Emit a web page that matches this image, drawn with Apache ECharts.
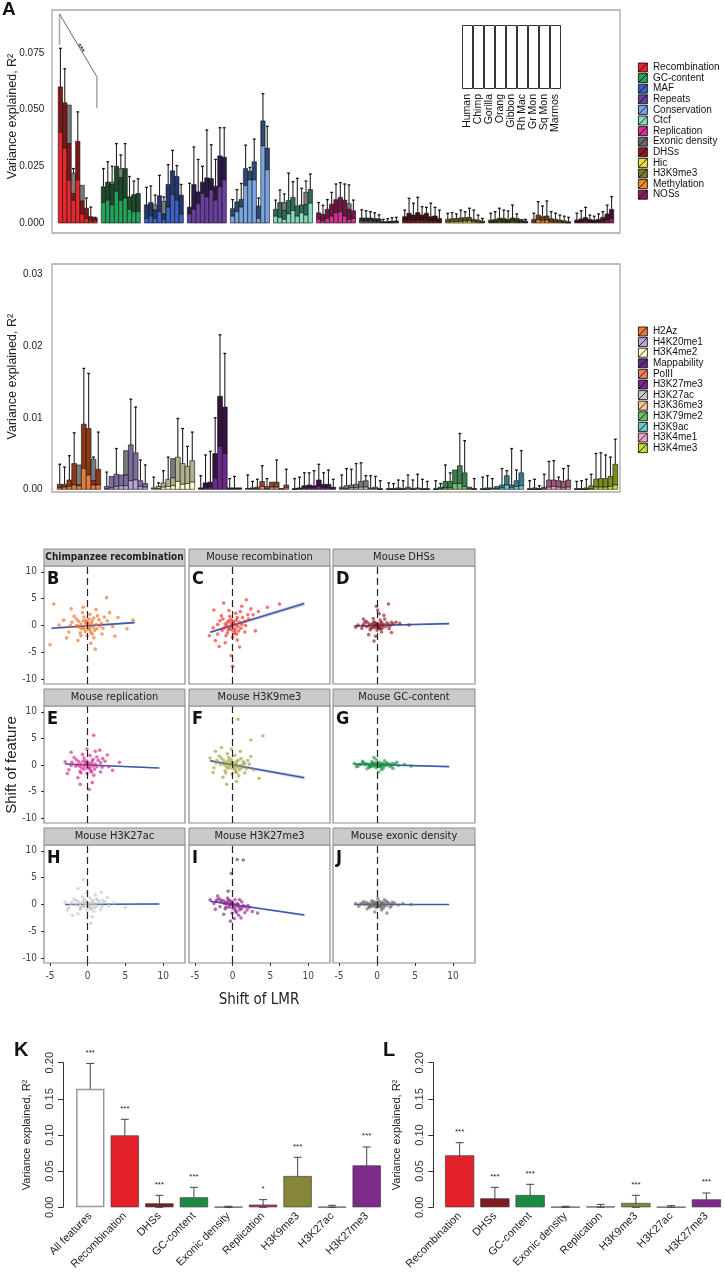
<!DOCTYPE html>
<html><head><meta charset="utf-8">
<script src="https://cdn.jsdelivr.net/npm/echarts@6/dist/echarts.min.js"></script>
<style>html,body{margin:0;padding:0;background:#fff}#c{width:725px;height:1272px}</style>
</head><body><div id="c"></div><script>
// ---------------- DATA ----------------
const topNames = ['Recombination','GC-content','MAF','Repeats','Conservation','Ctcf','Replication','Exonic density','DHSs','Hic','H3K9me3','Methylation','NOSs'];
const species = ['Human','Chimp','Gorilla','Orang','Gibbon','Rh Mac','Gr Mon','Sq Mon','Marmos'];
// stacked R2 per feature (rows) and species (cols): light part top, dark part top, grey part top, error top
const topLight = [
 [.040,.033,.019,.010,.019,.004,.002,.001,.001],
 [.009,.010,.008,.014,.010,.011,.006,.005,.005],
 [.002,.003,.002,.005,.0015,.007,.0125,.010,.004],
 [.004,.006,.0085,.013,.0115,.0145,.010,.016,.019],
 [.003,.005,.007,.0165,.019,.019,.002,.034,.0235],
 [.003,.0025,.0016,.004,.0055,.003,.0045,.0035,.0087],
 [.0016,.001,.002,.003,.0045,.005,.003,.0015,.002],
 [.0008,.0008,.0008,.0006,.0005,.0002,.0002,.0002,.0003],
 [.0008,.0012,.001,.0012,.001,.001,.0008,.0008,.0006],
 [.0005,.0006,.0006,.0007,.0008,.0009,.0005,.0003,.0002],
 [.0003,.0004,.0006,.0005,.0004,.0007,.0005,.0004,.0002],
 [.0004,.0014,.001,.0012,.0005,.0004,.0003,.0002,.0001],
 [.0003,.0005,.0008,.0004,.0003,.0004,.0009,.0012,.002]];
const topDark = [
 [.060,.053,.035,.013,.036,.0096,.0065,.0028,.0022],
 [.016,.018,.017,.025,.020,.024,.0115,.0125,.013],
 [.008,.009,.0057,.012,.004,.017,.023,.0205,.0123],
 [.007,.017,.0137,.018,.0199,.0196,.0162,.0296,.029],
 [.0063,.0093,.0104,.024,.0228,.027,.0075,.045,.033],
 [.006,.009,.0055,.010,.0113,.0075,.008,.008,.0148],
 [.0045,.0038,.006,.0083,.0103,.0113,.0101,.006,.0054],
 [.0022,.0022,.0022,.002,.0018,.0006,.0007,.0008,.0009],
 [.0028,.0043,.0035,.0046,.0035,.0043,.0028,.0031,.002],
 [.0016,.0019,.002,.0022,.0024,.0025,.0016,.0013,.0009],
 [.0013,.0016,.0021,.002,.0016,.0022,.002,.0016,.0009],
 [.0016,.0035,.0028,.0031,.0019,.0016,.0013,.001,.0006],
 [.0013,.0018,.0024,.0016,.0013,.0016,.0025,.004,.006]];
const topGrey = [
 [.060,.053,.052,.022,.036,.0166,.0065,.0028,.0022],
 [.016,.018,.018,.025,.024,.024,.0115,.0125,.013],
 [.008,.009,.008,.012,.0095,.017,.023,.0205,.0123],
 null, null,
 [.006,.009,.009,.010,.0113,.0075,.008,.0135,.0148],
 [.0045,.0038,.006,.0083,.0103,.0113,.0101,.0085,.0054],
 null, null, null, null, null, null];
const topErr = [
 [.077,.068,.052,.024,.049,.0137,.011,.007,.0025],
 [.024,.027,.025,.035,.030,.035,.0205,.0185,.0195],
 [.0157,.0163,.0123,.021,.0115,.0257,.032,.0253,.017],
 [.0175,.0335,.028,.025,.041,.0345,.028,.042,.042],
 [.0103,.0147,.0174,.0343,.0245,.037,.011,.057,.0426],
 [.0101,.0146,.0128,.022,.0182,.0197,.0153,.0185,.0216],
 [.009,.0078,.0103,.0135,.0172,.0178,.0172,.0168,.0101],
 [.0058,.0054,.005,.0045,.0036,.0016,.0019,.0023,.0025],
 [.0057,.0109,.0087,.0113,.0072,.0069,.0087,.0069,.0057],
 [.0043,.0046,.004,.0057,.005,.0065,.0057,.0035,.002],
 [.0043,.005,.0065,.0057,.0053,.0079,.004,.0013,.0016],
 [.0043,.0094,.0075,.0097,.005,.0043,.0035,.003,.0025],
 [.0043,.0054,.0069,.0035,.003,.004,.005,.0079,.0116]];
// significance bracket over Recombination: top, left-foot, right-top, right-foot
const bracketVals = [0.0921, 0.0785, 0.0645, 0.0508];

const botNames = ['H2Az','H4K20me1','H3K4me2','Mappability','PolII','H3K27me3','H3K27ac','H3K36me3','H3K79me2','H3K9ac','H3K4me1','H3K4me3'];
const botLight = [
 [.0002,.0003,.0004,.0006,.0005,.0029,.002,.0006,.0006],
 [.0001,.0002,.0004,.0005,.0005,.0012,.0013,.0004,.0003],
 [.0001,.0001,.0003,.0004,.0005,.0011,.0007,.0008,.001],
 [.0001,.0002,.0003,.0015,.006,.005,.0001,.0001,.0001],
 [.0001,.0001,.0001,.0004,.0001,.0003,.0003,.0001,.0002],
 [0,.0001,.0002,.0002,.0002,.0004,.0002,.0002,.0001],
 [.0001,.0001,.0002,.0002,.0003,.0003,.0001,.0001,0],
 [0,0,0,0,.0001,0,.0001,0,0],
 [0,.0001,.0002,.0002,.0008,.0008,.0004,.0001,0],
 [0,0,.0001,.0001,.0002,.0006,.0002,.0004,.0005],
 [0,0,0,.0001,.0003,.0004,.0003,.0002,.0003],
 [0,0,0,.0001,.0003,.0003,.0003,.0004,.0006]];
const botDark = [
 [.0007,.0007,.0013,.0036,.0006,.0091,.0085,.0012,.0028],
 [.0004,.0018,.0021,.002,.002,.0062,.0051,.0012,.0008],
 [.0002,.0004,.0009,.0014,.0016,.0045,.0036,.0032,.004],
 [.0002,.0009,.001,.005,.013,.0115,.0002,.0002,.0002],
 [.0001,.0002,.0003,.0011,.0004,.001,.001,.0001,.0006],
 [.0001,.0002,.0005,.0006,.0005,.0013,.0007,.0007,.0003],
 [.0003,.0005,.0006,.0007,.0011,.0012,.0002,.0003,.0001],
 [.0001,.0001,.0002,.0001,.0003,.0001,.0002,.0001,.0001],
 [.0001,.0003,.0011,.0011,.0027,.0033,.0023,.0003,.0001],
 [.0001,.0002,.0002,.0004,.0006,.0019,.0006,.0012,.0023],
 [.0001,.0002,.0001,.0003,.0013,.0013,.0012,.0011,.0013],
 [.0001,.0001,.0002,.0005,.0014,.0015,.0015,.0018,.0035]];
const botGrey = [
 [.0007,.0007,.0013,.0036,.0034,.0091,.0085,.0042,.0028],
 [.0004,.0018,.0021,.002,.0054,.0062,.0051,.0012,.0008],
 [.0002,.0004,.0009,.0014,.0043,.0045,.0036,.0032,.004],
 null,null,null,null,null,null,null,null,null];
const botErr = [
 [.0035,.0031,.0047,.0079,.0034,.0169,.0162,.0045,.008],
 [.0024,.0018,.0057,.002,.0054,.0126,.0115,.0041,.0034],
 [.0017,.0009,.0026,.0045,.0043,.0099,.0085,.006,.008],
 [.0019,.0048,.0053,.010,.0216,.019,.0015,.0018,.0002],
 [.002,.0011,.0014,.0033,.0015,.001,.0041,.0001,.0028],
 [.0015,.0017,.0023,.0023,.0026,.0035,.0023,.0027,.0014],
 [.002,.0029,.0028,.0036,.0037,.0019,.0019,.0018,.0012],
 [.0009,.0008,.0013,.0012,.002,.0013,.0021,.0014,.0011],
 [.0012,.0008,.0034,.0023,.0027,.0078,.0068,.0003,.0015],
 [.0017,.0019,.0015,.0004,.0029,.0026,.0057,.0027,.0054],
 [.0012,.0014,.0005,.0021,.0039,.004,.0017,.0029,.0033],
 [.0011,.0012,.0014,.0021,.005,.0051,.0048,.0045,.007]];

// scatter panels B-J: [shift of LMR, shift of feature]
const scatterTitles = ['Chimpanzee recombination','Mouse recombination','Mouse DHSs','Mouse replication','Mouse H3K9me3','Mouse GC-content','Mouse H3K27ac','Mouse H3K27me3','Mouse exonic density'];
const ptsB = [[-0.3,0.5],[0.2,-0.4],[0.6,0.9],[-0.8,-0.6],[1.1,0.2],[-1.2,0.8],[0.4,-1.3],[-0.5,1.6],[0.9,-0.9],[-1.6,-0.2],[1.5,1.1],[-0.1,-1.9],[0.3,2.1],[-2.1,0.6],[2.0,-0.5],[-1.0,-1.4],[1.3,1.8],[-0.7,2.4],[0.8,-2.3],[-2.5,-1.2],[2.6,0.9],[-1.8,1.7],[1.9,-1.6],[-0.2,0.1],[0.1,0.3],[-0.4,-0.2],[0.5,0.4],[0.0,-0.7],[-0.9,0.3],[0.7,-0.3],[-3.2,1.0],[3.3,-0.2],[-2.8,-2.3],[2.9,2.4],[-1.3,-2.8],[1.1,3.0],[-3.8,0.1],[4.0,1.5],[-0.6,3.4],[0.4,-3.3],[-5.0,-3.6],[6.0,1.0],[-4.5,4.0],[2.5,5.2],[1.0,-4.4],[5.2,-0.6],[-2.2,3.1],[3.6,-2.0],[-1.4,0.0],[1.6,-0.1],[0.2,1.2],[-0.3,-1.1],[-0.6,0.9],[0.8,1.4],[-1.1,-0.3],[1.2,-0.6],[0.3,-0.8],[-0.2,1.0],[-1.5,1.2],[1.8,0.4],[-0.9,-1.9],[0.6,-1.6],[-2.3,0.0],[2.2,1.6],[0.0,0.6],[-0.5,-0.6]];
const ptsC = [[-0.2,0.4],[0.3,-0.5],[0.5,1.0],[-0.6,-0.8],[0.9,0.6],[-1.0,0.3],[0.2,-1.5],[-0.4,1.7],[0.8,-1.0],[-1.4,-0.9],[1.3,1.5],[0.0,-2.2],[0.4,2.3],[-1.7,0.9],[1.7,0.0],[-0.9,-1.9],[1.0,2.6],[-0.5,2.8],[0.6,-2.7],[-2.0,-1.6],[2.1,1.2],[-1.5,1.8],[1.6,-1.2],[-0.1,0.0],[0.1,0.5],[-0.3,-0.3],[0.4,0.2],[0.0,-0.9],[-0.7,0.6],[0.7,-0.2],[-2.6,-0.4],[2.7,2.0],[-2.3,-2.8],[2.4,3.1],[-1.0,-3.2],[1.2,3.6],[-3.1,-1.9],[3.4,2.6],[-0.2,-5.6],[0.0,-7.6],[1.8,4.8],[-2.5,2.9],[4.6,3.4],[6.2,4.0],[3.0,-1.0],[-1.2,4.2],[0.9,-4.0],[-1.8,-3.9],[-0.8,0.0],[1.1,-0.5],[-0.5,0.9],[0.6,1.5],[-1.1,-0.4],[1.2,0.2],[0.3,-1.0],[-0.2,1.1],[-1.3,1.2],[1.6,0.8],[-0.7,-1.4],[0.5,-1.6],[-2.0,0.2],[2.0,2.0],[0.1,0.8],[-0.4,-0.7]];
const ptsD = [[-0.2,0.1],[0.3,-0.2],[0.5,0.4],[-0.6,-0.3],[0.9,0.2],[-1.0,0.3],[0.2,-0.6],[-0.4,0.7],[0.8,-0.4],[-1.4,-0.2],[1.3,0.5],[0.0,-0.9],[0.4,1.0],[-1.7,0.4],[1.7,-0.1],[-0.9,-0.8],[1.0,1.2],[-0.5,1.3],[0.6,-1.2],[-2.0,-0.5],[2.1,0.3],[-1.5,0.8],[1.6,-0.6],[-0.1,0.0],[0.1,0.2],[-0.3,-0.1],[0.2,0.1],[0.0,-0.4],[-0.7,0.2],[0.7,0.0],[-2.5,0.1],[2.5,0.6],[-0.2,-2.0],[0.3,2.2],[-0.4,-2.9],[1.5,4.0],[-1.1,-1.7],[0.9,1.9],[3.0,0.4],[4.2,0.1],[-2.8,-0.3],[0.1,2.9],[-0.1,3.6],[1.9,-1.3],[-1.8,1.2],[0.5,-0.7],[-0.5,0.4],[0.6,0.6],[-1.1,-0.1],[1.2,-0.2],[0.3,-0.3],[-0.2,0.5],[-1.3,0.6],[1.5,0.2],[-0.8,-0.5],[0.4,-0.5],[-1.9,0.0],[1.9,0.6],[0.0,0.3],[-0.4,-0.4]];
const ptsE = [[-0.3,0.3],[0.2,-0.4],[0.6,0.7],[-0.8,-0.5],[1.0,0.2],[-1.2,0.6],[0.4,-1.1],[-0.5,1.3],[0.9,-0.8],[-1.6,-0.2],[1.4,0.9],[-0.1,-1.6],[0.3,1.8],[-2.1,0.5],[1.9,-0.4],[-1.0,-1.2],[1.2,1.5],[-0.7,2.0],[0.8,-1.9],[-2.5,-0.9],[2.3,0.7],[-1.8,1.4],[1.7,-1.3],[-0.2,0.1],[0.1,0.2],[-0.4,-0.2],[0.5,0.3],[0.0,-0.6],[-0.9,0.2],[0.7,-0.2],[-3.0,0.6],[2.8,-0.3],[-2.7,-1.6],[2.6,1.9],[-1.3,-2.4],[1.0,2.6],[-0.1,3.0],[0.6,-3.3],[4.2,0.5],[0.8,5.6],[1.6,2.8],[-1.0,-3.6],[0.2,-4.6],[3.3,-1.0],[-2.2,2.4],[-1.4,0.0],[-0.6,0.7],[0.7,1.1],[-1.1,-0.2],[1.2,-0.3],[0.3,-0.7],[-0.2,0.8],[-1.5,1.0],[1.7,0.4],[-0.9,-1.5],[0.5,-1.3],[-2.2,-0.1],[2.0,1.2],[0.0,0.5],[-0.5,-0.8]];
const ptsF = [[-0.3,0.4],[0.2,-0.3],[0.5,0.6],[-0.8,-0.4],[1.0,-0.1],[-1.2,0.9],[0.4,-1.2],[-0.5,1.4],[0.9,-0.9],[-1.6,0.1],[1.4,0.6],[-0.1,-1.7],[0.3,1.8],[-2.1,0.9],[1.8,-0.7],[-1.0,-1.1],[1.1,1.2],[-0.7,2.1],[0.8,-2.0],[-2.5,-0.5],[2.2,0.2],[-1.8,1.7],[1.6,-1.5],[-0.2,0.1],[0.1,0.2],[-0.4,-0.1],[0.5,0.2],[0.0,-0.6],[-0.9,0.4],[0.7,-0.4],[-3.0,1.3],[2.8,-0.9],[-2.6,-1.4],[2.4,1.6],[-1.3,-2.3],[1.0,2.6],[-0.2,3.0],[0.5,-3.1],[0.7,8.6],[2.4,4.7],[4.0,5.5],[-1.5,3.3],[-0.8,-3.6],[3.5,-2.5],[-2.3,2.6],[1.3,0.0],[-0.6,0.8],[0.7,0.9],[-1.1,0.0],[1.2,-0.5],[0.3,-0.8],[-0.2,1.0],[-1.5,1.3],[1.6,0.3],[-0.9,-1.5],[0.5,-1.4],[-2.2,0.4],[2.0,0.9],[0.0,0.5],[-0.5,-0.6]];
const ptsG = [[-0.3,0.1],[0.2,-0.1],[0.6,0.2],[-0.8,-0.2],[1.0,0.1],[-1.2,0.2],[0.4,-0.3],[-0.5,0.4],[0.9,-0.2],[-1.6,0.0],[1.4,0.3],[-0.1,-0.5],[0.3,0.5],[-2.1,0.2],[1.9,-0.1],[-1.0,-0.4],[1.2,0.4],[-0.7,0.6],[0.8,-0.6],[-2.5,-0.2],[2.3,0.2],[-1.8,0.4],[1.7,-0.3],[-0.2,0.0],[0.1,0.1],[-0.4,-0.1],[0.5,0.1],[0.0,-0.2],[-0.9,0.1],[0.7,0.0],[-3.0,0.3],[2.8,-0.1],[-2.7,-0.3],[2.6,0.5],[-1.3,-0.7],[1.0,0.8],[-0.1,1.0],[0.6,-0.9],[3.6,0.1],[4.5,-0.2],[-1.9,0.7],[2.1,-0.6],[0.2,-1.3],[-0.4,1.4],[-0.6,0.3],[0.7,0.3],[-1.1,-0.1],[1.2,-0.1],[0.3,-0.2],[-0.2,0.3],[-1.5,0.3],[1.6,0.2],[-0.9,-0.3],[0.5,-0.3],[-2.2,0.1],[2.0,0.3],[0.0,0.2],[-0.5,-0.2]];
const ptsH = [[-0.3,0.2],[0.2,-0.3],[0.6,0.5],[-0.8,-0.4],[1.0,0.2],[-1.2,0.5],[0.4,-0.8],[-0.5,0.9],[0.9,-0.6],[-1.6,-0.1],[1.4,0.7],[-0.1,-1.1],[0.3,1.2],[-2.1,0.4],[1.9,-0.3],[-1.0,-0.9],[1.2,1.0],[-0.7,1.4],[0.8,-1.3],[-2.5,-0.6],[2.3,0.5],[-1.8,1.0],[1.7,-0.9],[-0.2,0.0],[0.1,0.2],[-0.4,-0.2],[0.5,0.1],[0.0,-0.5],[-0.9,0.2],[0.7,-0.1],[-3.0,0.4],[2.8,-0.2],[-2.7,-1.0],[2.6,1.3],[-1.3,-1.7],[1.0,1.8],[-0.1,2.2],[0.6,-2.3],[3.5,0.3],[5.0,-0.5],[-0.6,4.6],[-1.3,3.0],[0.4,-3.5],[1.8,2.3],[-2.0,-2.0],[-0.6,0.5],[0.7,0.8],[-1.1,-0.2],[1.2,-0.3],[0.3,-0.5],[-0.2,0.6],[-1.5,0.7],[1.6,0.3],[-0.9,-0.7],[0.5,-0.8],[-2.2,0.1],[2.0,0.8],[0.0,0.3],[-0.5,-0.4]];
const ptsI = [[-0.3,0.3],[0.2,-0.4],[0.6,0.2],[-0.8,0.1],[1.0,-0.5],[-1.2,0.7],[0.4,-1.2],[-0.5,0.9],[0.9,-1.0],[-1.6,0.5],[1.4,-0.2],[-0.1,-1.6],[0.3,0.9],[-2.1,0.9],[1.9,-1.0],[-1.0,-0.8],[1.2,0.5],[-0.7,1.2],[0.8,-2.0],[-2.5,0.2],[2.2,-0.5],[-1.8,1.1],[1.6,-1.5],[-0.2,0.0],[0.1,0.1],[-0.4,-0.2],[0.5,-0.1],[0.0,-0.7],[-0.9,0.4],[0.7,-0.4],[-3.0,0.9],[2.6,-1.3],[-2.3,-0.9],[-1.2,-1.8],[0.2,-2.6],[-0.3,-3.1],[-0.6,2.5],[-0.2,5.8],[0.6,8.4],[1.4,8.3],[3.3,-1.6],[-1.7,-0.4],[1.1,-2.5],[-2.0,1.6],[0.9,0.9],[-0.6,0.6],[0.7,0.0],[-1.1,0.2],[1.2,-0.8],[0.3,-0.9],[-0.2,0.6],[-1.5,0.8],[1.6,-0.4],[-0.9,-0.5],[0.5,-1.5],[-2.2,0.6],[2.0,-0.2],[0.0,0.3],[-0.5,-0.5]];
const ptsJ = [[-0.3,0.1],[0.2,-0.2],[0.6,0.3],[-0.8,-0.2],[1.0,0.2],[-1.2,0.3],[0.4,-0.4],[-0.5,0.5],[0.9,-0.3],[-1.6,0.0],[1.4,0.4],[-0.1,-0.6],[0.3,0.6],[-2.0,0.2],[1.9,-0.2],[-1.0,-0.5],[1.2,0.6],[-0.7,0.7],[0.8,-0.7],[-2.4,-0.3],[2.3,0.3],[-1.8,0.5],[1.7,-0.5],[-0.2,0.0],[0.1,0.1],[-0.4,-0.1],[0.5,0.1],[0.0,-0.3],[-0.9,0.1],[0.7,0.0],[-2.8,0.2],[2.8,-0.1],[-1.3,-0.8],[1.0,0.9],[0.1,1.1],[0.6,-1.0],[3.4,0.2],[1.3,-1.6],[-0.3,-1.4],[4.5,0.0],[-0.6,0.3],[0.7,0.4],[-1.1,-0.1],[1.2,-0.2],[0.3,-0.3],[-0.2,0.4],[-1.5,0.4],[1.6,0.2],[-0.9,-0.4],[0.5,-0.4],[-2.2,0.1],[2.0,0.4],[0.0,0.2],[-0.5,-0.3]];
const scatterPts = [ptsB, ptsC, ptsD, ptsE, ptsF, ptsG, ptsH, ptsI, ptsJ];
// fitted lines [x1,y1,x2,y2] and confidence half-widths at the two ends
const regLines = [[-4.8,-0.5,6.2,0.55],[-3,-1.25,9.5,4.1],[-3,-0.1,9.5,0.35],[-3,0.2,9.5,-0.55],[-3,0.8,9.5,-2.4],[-3,0.2,9.5,-0.3],[-3,0,9.5,0.1],[-3,0.6,9.5,-1.95],[-3,0,9.5,0]];
const regBand = [[0.18,0.2],[0.25,0.4],[0.1,0.15],[0.1,0.15],[0.2,0.35],[0.08,0.12],[0.08,0.12],[0.15,0.25],[0.06,0.1]];

// K and L
const kCats = ['All features','Recombination','DHSs','GC-content','Exonic density','Replication','H3K9me3','H3K27ac','H3K27me3'];
const kVals = [0.164,0.0995,0.0055,0.0138,0.0005,0.0037,0.0433,0.0005,0.058];
const kLo = [0.129,0.0719,0,0.003,0,0,0.0184,0,0.0332];
const kHi = [0.199,0.1217,0.0166,0.0276,0.0014,0.0106,0.0691,0.0028,0.0834];
const kSig = ['***','***','***','***','','*','***','','***'];
const lCats = ['Recombination','DHSs','GC-content','Exonic density','Replication','H3K9me3','H3K27ac','H3K27me3'];
const lVals = [0.0719,0.0124,0.017,0.0005,0.001,0.006,0.0004,0.011];
const lLo = [0.0498,0.004,0.0078,0,0,0,0,0.0046];
const lHi = [0.0894,0.0276,0.0318,0.0014,0.004,0.0166,0.0023,0.0198];
const lSig = ['***','***','***','','','***','','***'];

// ---------------- STYLE ----------------
const topLightC = ['#e8262b','#25a35a','#3c62c4','#6b3fa0','#79a6e0','#86dcc0','#d92f98','#6a6a6a','#8c1c22','#e8e33a','#7c7b2c','#f08c2a','#8e1f5c'];
const topDarkC  = ['#7d1719','#1e4a2c','#23386b','#2b1a45','#2e4870','#2f6b58','#6e1742','#2e2e2e','#3f0e10','#59561b','#3a3a16','#6e4218','#420f2a'];
const botLightC = ['#e67d3c','#b9a6d8','#fffbcc','#6a2a8c','#f0825e','#7a2a8e','#c8c8c8','#f6c99b','#6cc06c','#6ec8d2','#f2a2c8','#c8dc2c'];
const botDarkC  = ['#8a3a14','#7c6c9c','#aeb08e','#34123f','#8b4636','#3c1246','#7a7a7a','#8a6a4c','#3e7e4c','#3a7c86','#9a5a7c','#7e8a1e'];
const scatterC = ['#f26a21','#ee2a24','#8c1a26','#d9208e','#a39e37','#1a9145','#c4c4c4','#8e1e8c','#6a6a6a'];
const kColors = ['#ffffff','#e3212a','#7e1b1f','#1b8a42','#555555','#c7237f','#86853a','#8a8a8a','#7d2a8b'];
const lColors = ['#e3212a','#7e1b1f','#1b8a42','#555555','#c7237f','#86853a','#8a8a8a','#7d2a8b'];
const FONT = 'Liberation Sans, Arial, sans-serif';
const NARROW = '"Liberation Sans Narrow", "DejaVu Sans Condensed", "Liberation Sans", sans-serif';

const chart = echarts.init(document.getElementById('c'), null, {renderer:'canvas'});

function buildData(L, D, G, E) {
  const out = [];
  L.forEach((row, g) => row.forEach((v, b) => {
    out.push([g, b, v, D[g][b], G[g] ? G[g][b] : D[g][b], E[g][b]]);
  }));
  return out;
}
function barRenderer(frac, lightC, darkC, mode) {
  return function (params, api) {
    const g = api.value(0), b = api.value(1);
    const base = api.coord([g, 0]);
    const band = api.size([1, 0])[0];
    const gw = band * frac, bw = gw / 9;
    const x0 = base[0] - gw / 2 + b * bw, y0 = base[1], xm = x0 + bw / 2;
    const yL = api.coord([g, api.value(2)])[1], yD = api.coord([g, api.value(3)])[1];
    const yG = api.coord([g, api.value(4)])[1], yE = api.coord([g, api.value(5)])[1];
    const kids = [];
    if (mode === 'bars') {
      const st = f => ({fill: f, stroke: '#111', lineWidth: 0.6});
      if (yG < yD - 0.3) kids.push({type:'rect', shape:{x:x0, y:yG, width:bw, height:yD - yG}, style: st('#7b7b7b')});
      kids.push({type:'rect', shape:{x:x0, y:yD, width:bw, height:Math.max(0, yL - yD)}, style: st(darkC[g])});
      kids.push({type:'rect', shape:{x:x0, y:yL, width:bw, height:Math.max(0, y0 - yL)}, style: st(lightC[g])});
    } else if (yE < yG - 0.5) {
      kids.push({type:'line', shape:{x1:xm, y1:yG, x2:xm, y2:yE}, style:{stroke:'#222', lineWidth:1.1}});
      kids.push({type:'line', shape:{x1:xm - 1.4, y1:yE, x2:xm + 1.4, y2:yE}, style:{stroke:'#111', lineWidth:1.3}});
    }
    return {type:'group', children: kids};
  };
}
function bracketRender(params, api) {
  const g = api.value(0);
  const base = api.coord([g, 0]);
  const band = api.size([1, 0])[0];
  const gw = band * 0.907, bw = gw / 9;
  const xl = base[0] - gw / 2 + 0.3 * bw, xr = base[0] + gw / 2 - 0.1 * bw;
  const yT = api.coord([g, api.value(1)])[1], yLb = api.coord([g, api.value(2)])[1];
  const yRt = api.coord([g, api.value(3)])[1], yRb = api.coord([g, api.value(4)])[1];
  const ang = Math.atan2(yRt - yT, xr - xl);
  const mx = xl + (xr - xl) * 0.55, my = yT + (yRt - yT) * 0.55;
  return {type:'group', children:[
    {type:'line', shape:{x1:xl, y1:yT, x2:xl, y2:yLb}, style:{stroke:'#aaa', lineWidth:1.6}},
    {type:'line', shape:{x1:xr, y1:yRt, x2:xr, y2:yRb}, style:{stroke:'#aaa', lineWidth:1.6}},
    {type:'line', shape:{x1:xl, y1:yT, x2:xr, y2:yRt}, style:{stroke:'#444', lineWidth:0.8}},
    {type:'text', x:mx, y:my, rotation:-ang, style:{text:'***', align:'center', verticalAlign:'middle', font:'bold 8px ' + FONT, fill:'#333'}}
  ]};
}
function regRender(params, api) {
  const x1 = api.value(0), y1 = api.value(1), x2 = api.value(2), y2 = api.value(3), h1 = api.value(4), h2 = api.value(5);
  const a = api.coord([x1, y1 - h1]), b = api.coord([x2, y2 - h2]), c = api.coord([x2, y2 + h2]), d = api.coord([x1, y1 + h1]);
  const p = api.coord([x1, y1]), q = api.coord([x2, y2]);
  return {type:'group', children:[
    {type:'polygon', shape:{points:[a, b, c, d]}, style:{fill:'rgba(120,130,185,0.35)'}},
    {type:'line', shape:{x1:p[0], y1:p[1], x2:q[0], y2:q[1]}, style:{stroke:'#3d5ba9', lineWidth:1.6}}
  ]};
}
function errRender(sig) {
  return function (params, api) {
    const i = api.value(0);
    const lo = api.coord([i, api.value(1)]), hi = api.coord([i, api.value(2)]);
    const kids = [
      {type:'line', shape:{x1:lo[0], y1:lo[1], x2:hi[0], y2:hi[1]}, style:{stroke:'#444', lineWidth:1}},
      {type:'line', shape:{x1:hi[0] - 4, y1:hi[1], x2:hi[0] + 4, y2:hi[1]}, style:{stroke:'#444', lineWidth:1}},
      {type:'line', shape:{x1:lo[0] - 4, y1:lo[1], x2:lo[0] + 4, y2:lo[1]}, style:{stroke:'#444', lineWidth:1}}
    ];
    if (sig[i]) kids.push({type:'text', x:hi[0], y:hi[1] - 11, style:{text:sig[i], align:'center', verticalAlign:'middle', font:'8px ' + FONT, fill:'#222'}});
    return {type:'group', children: kids};
  };
}

// ---------------- LAYOUT ----------------
const grids = [], xAxes = [], yAxes = [], series = [], graphics = [];
const G0 = {containLabel:false, outerBoundsMode:'none'};
// grid 0: A top
grids.push(Object.assign({left:56.25, top:10, width:559.5, height:213}, G0));
xAxes.push({gridIndex:0, type:'category', data:topNames, axisLabel:{show:false}, axisTick:{show:false}, axisLine:{show:false}});
yAxes.push({gridIndex:0, type:'value', min:0, max:0.0939, interval:0.025, splitLine:{show:false}, axisLine:{show:false}, axisTick:{show:false},
  axisLabel:{showMaxLabel:false, margin:12, fontSize:10, color:'#222', fontFamily:FONT, formatter:v => v.toFixed(3)},
  name:'Variance explained, R²', nameLocation:'middle', nameGap:37, nameMoveOverlap:false, nameTextStyle:{fontSize:12.5, color:'#222', fontFamily:FONT}});
// grid 1: species key
grids.push(Object.assign({left:462, top:25, width:99, height:64}, G0));
xAxes.push({gridIndex:1, type:'category', data:species, axisLabel:{rotate:90, interval:0, margin:5, fontSize:10.5, color:'#111', fontFamily:FONT}, axisTick:{show:false}, axisLine:{show:false}});
yAxes.push({gridIndex:1, type:'value', min:0, max:1, show:false});
// grid 2: A bottom
grids.push(Object.assign({left:55.5, top:264, width:564, height:225.3}, G0));
xAxes.push({gridIndex:2, type:'category', data:botNames, axisLabel:{show:false}, axisTick:{show:false}, axisLine:{show:false}});
yAxes.push({gridIndex:2, type:'value', min:0, max:0.0315, interval:0.01, splitLine:{show:false}, axisLine:{show:false}, axisTick:{show:false},
  axisLabel:{showMaxLabel:false, margin:13, fontSize:10, color:'#222', fontFamily:FONT, formatter:v => v.toFixed(2)},
  name:'Variance explained, R²', nameLocation:'middle', nameGap:36, nameMoveOverlap:false, nameTextStyle:{fontSize:12.5, color:'#222', fontFamily:FONT}});

series.push({type:'custom', xAxisIndex:0, yAxisIndex:0, renderItem:barRenderer(0.907, topLightC, topDarkC, 'bars'), data:buildData(topLight, topDark, topGrey, topErr), encode:{x:0, y:5}, clip:false, silent:true});
series.push({type:'custom', xAxisIndex:0, yAxisIndex:0, renderItem:barRenderer(0.907, topLightC, topDarkC, 'err'), data:buildData(topLight, topDark, topGrey, topErr), encode:{x:0, y:5}, clip:false, silent:true});
series.push({type:'custom', xAxisIndex:0, yAxisIndex:0, renderItem:bracketRender, data:[[0].concat(bracketVals)], encode:{x:0, y:1}, clip:false, silent:true});
series.push({type:'bar', xAxisIndex:1, yAxisIndex:1, data:species.map(() => 1), barCategoryGap:0, silent:true, itemStyle:{color:'#fff', borderColor:'#333', borderWidth:1}});
series.push({type:'custom', xAxisIndex:2, yAxisIndex:2, renderItem:barRenderer(0.923, botLightC, botDarkC, 'bars'), data:buildData(botLight, botDark, botGrey, botErr), encode:{x:0, y:5}, clip:false, silent:true});
series.push({type:'custom', xAxisIndex:2, yAxisIndex:2, renderItem:barRenderer(0.923, botLightC, botDarkC, 'err'), data:buildData(botLight, botDark, botGrey, botErr), encode:{x:0, y:5}, clip:false, silent:true});
topNames.forEach((n, i) => series.push({type:'bar', name:n, xAxisIndex:0, yAxisIndex:0, data:[], itemStyle:{color:topLightC[i]}}));
botNames.forEach((n, i) => series.push({type:'bar', name:n, xAxisIndex:2, yAxisIndex:2, data:[], itemStyle:{color:botLightC[i]}}));

graphics.push({type:'rect', shape:{x:52, y:10, width:568, height:223}, style:{fill:'none', stroke:'#aaa', lineWidth:1.3}, z:50});
graphics.push({type:'rect', shape:{x:52, y:264, width:568, height:228}, style:{fill:'none', stroke:'#aaa', lineWidth:1.3}, z:50});
graphics.push({type:'text', left:2, top:0, style:{text:'A', font:'bold 19px ' + FONT, fill:'#111'}});

// scatter grids
const cols = [[44,185],[189,330],[333,475]];
const rows = [[566,684],[706,823],[845,963]];
const letters = ['B','C','D','E','F','G','H','I','J'];
for (let k = 0; k < 9; k++) {
  const r = Math.floor(k / 3), c = k % 3, gi = 3 + k;
  const [x0, x1] = cols[c], [y0, y1] = rows[r];
  grids.push(Object.assign({left:x0, top:y0, width:x1 - x0, height:y1 - y0, show:true, borderColor:'#8c8c8c', borderWidth:1.2, backgroundColor:'#fff'}, G0));
  xAxes.push({gridIndex:gi, type:'value', min:-5.8, max:12.9, splitNumber:4, splitLine:{show:false}, axisLine:{show:false, onZero:false},
    axisTick:{show:r === 2, length:3, lineStyle:{color:'#333'}},
    axisLabel:{show:r === 2, showMinLabel:false, showMaxLabel:false, margin:8, fontSize:10, color:'#444', fontFamily:NARROW}});
  yAxes.push({gridIndex:gi, type:'value', min:-10.9, max:11.1, splitNumber:4, splitLine:{show:false}, axisLine:{show:false, onZero:false},
    axisTick:{show:c === 0, length:3, lineStyle:{color:'#333'}},
    axisLabel:{show:c === 0, showMinLabel:false, showMaxLabel:false, margin:7, fontSize:10, color:'#444', fontFamily:NARROW}});
  series.push({type:'scatter', xAxisIndex:gi, yAxisIndex:gi, data:scatterPts[k], symbolSize:3.6, silent:true,
    itemStyle:{color:scatterC[k], opacity:0.65},
    markLine:{silent:true, symbol:'none', label:{show:false}, lineStyle:{color:'#222', type:[7,4], width:1.2}, data:[{xAxis:0}]}});
  series.push({type:'custom', xAxisIndex:gi, yAxisIndex:gi, renderItem:regRender, silent:true,
    data:[regLines[k].concat(regBand[k])], encode:{x:[0,2], y:[1,3]}});
  graphics.push({type:'rect', shape:{x:x0, y:y0 - 17, width:x1 - x0, height:17}, style:{fill:'#cacaca', stroke:'#8c8c8c', lineWidth:1}, z:40});
  graphics.push({type:'text', x:(x0 + x1) / 2, y:y0 - 8.5, style:{text:scatterTitles[k], align:'center', verticalAlign:'middle',
    font:(k === 0 ? 'bold 10px ' : '11px ') + NARROW, fill:'#222'}, z:41});
  graphics.push({type:'text', x:x0 + 3, y:y0 + 4, style:{text:letters[k], font:'bold 18px ' + NARROW, fill:'#111'}, z:41});
}
graphics.push({type:'text', x:12, y:765, rotation:Math.PI / 2, style:{text:'Shift of feature', align:'center', verticalAlign:'middle', font:'15px ' + FONT, fill:'#222'}});
graphics.push({type:'text', x:259, y:1000, style:{text:'Shift of LMR', align:'center', verticalAlign:'middle', font:'15px ' + NARROW, fill:'#222'}});

// K and L
function kl(gi, left, width, cats, vals, lo, hi, sig, colors, offset, gap) {
  grids.push(Object.assign({left:left, top:1062.7, width:width, height:144.6}, G0));
  xAxes.push({gridIndex:gi, type:'category', data:cats, axisLine:{show:false}, axisTick:{show:false},
    axisLabel:{rotate:45, interval:0, margin:7, fontSize:11, color:'#222', fontFamily:FONT}});
  yAxes.push({gridIndex:gi, type:'value', min:0, max:0.2, interval:0.05, offset:offset, splitLine:{show:false},
    axisLine:{show:true, lineStyle:{color:'#333', width:1}}, axisTick:{show:true, length:5, lineStyle:{color:'#333'}},
    axisLabel:{rotate:90, margin:8, fontSize:11, color:'#333', fontFamily:FONT, formatter:v => v.toFixed(2)},
    name:'Variance explained, R²', nameLocation:'middle', nameGap:31, nameMoveOverlap:false, nameTextStyle:{fontSize:11, color:'#222', fontFamily:FONT}});
  series.push({type:'bar', xAxisIndex:gi, yAxisIndex:gi, barCategoryGap:gap, silent:true,
    data:vals.map((v, i) => ({value:v, itemStyle:{color:colors[i], borderColor:i === 0 && gi === 12 ? '#999' : '#444', borderWidth:i === 0 && gi === 12 ? 1.5 : 0.7}}))});
  series.push({type:'custom', xAxisIndex:gi, yAxisIndex:gi, renderItem:errRender(sig), clip:false, silent:true,
    data:vals.map((v, i) => [i, lo[i], hi[i]]), encode:{x:0, y:[1,2]}});
}
kl(12, 73, 311, kCats, kVals, kLo, kHi, kSig, kColors, 10, '18%');
kl(13, 442, 282, lCats, lVals, lLo, lHi, lSig, lColors, 8.7, '17%');
graphics.push({type:'text', left:14, top:1040, style:{text:'K', font:'bold 20px ' + FONT, fill:'#111'}});
graphics.push({type:'text', left:383, top:1040, style:{text:'L', font:'bold 20px ' + FONT, fill:'#111'}});

const legendIcon = 'path://M0,0L10,0L10,10L0,10Z M0,10L10,0';
const legendBase = {orient:'vertical', itemWidth:10, itemHeight:9, itemGap:0.6, icon:legendIcon, padding:0, selectedMode:false,
  textStyle:{fontSize:10, color:'#111', lineHeight:9, fontFamily:FONT}, itemStyle:{borderColor:'#000', borderWidth:0.8}};

chart.setOption({
  animation:false,
  textStyle:{fontFamily:FONT},
  grid:grids, xAxis:xAxes, yAxis:yAxes, series:series,
  legend:[Object.assign({data:topNames, left:638, top:62.5}, legendBase), Object.assign({data:botNames, left:638, top:326.5}, legendBase)],
  graphic:graphics
});
</script></body></html>
